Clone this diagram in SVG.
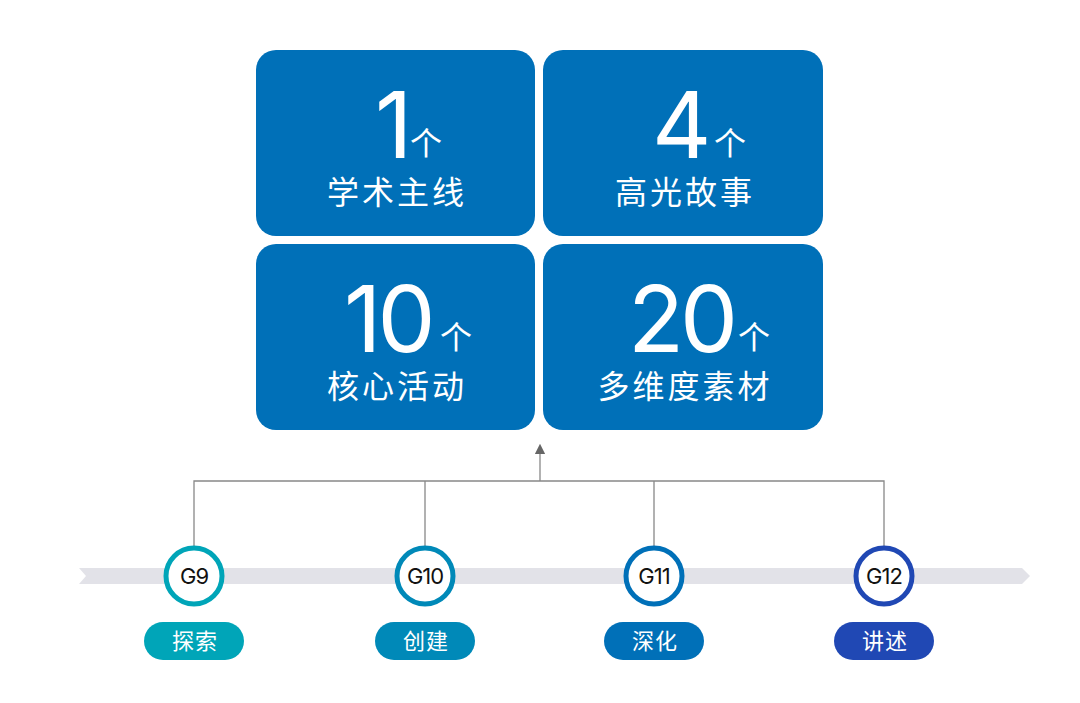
<svg xmlns="http://www.w3.org/2000/svg" width="1080" height="703" viewBox="0 0 1080 703">
<style>
.box{fill:#0070B8}
.num{font-family:Inter,"Liberation Sans",sans-serif;font-size:92px;fill:#fff;letter-spacing:-4px}
.ge{font-family:"Noto Sans CJK SC",sans-serif;font-size:32px;fill:#fff}
.lab{font-family:"Noto Sans CJK SC",sans-serif;font-size:32px;fill:#fff;text-anchor:middle;letter-spacing:3px}
.g{font-family:Inter,"Liberation Sans",sans-serif;font-size:22px;fill:#111;text-anchor:middle;letter-spacing:-1px}
.pt{font-family:"Noto Sans CJK SC",sans-serif;font-size:22px;fill:#fff;text-anchor:middle;letter-spacing:1px}
.ln{stroke:#888;stroke-width:1.3;fill:none}
</style>
<defs><marker id="ah" markerWidth="8" markerHeight="8" refX="4" refY="4" orient="auto"><path d="M0,0 L8,4 L0,8 z" fill="#666"/></marker></defs>
<rect width="1080" height="703" fill="#fff"/>
<g id="box1"><rect class="box" x="256" y="50" width="279" height="186" rx="20"/><text class="num" x="375" y="158">1</text><text class="ge" x="410" y="155">个</text><text class="lab" x="397" y="204">学术主线</text></g>
<g id="box2"><rect class="box" x="543" y="50" width="280" height="186" rx="20"/><text class="num" x="652" y="158">4</text><text class="ge" x="714" y="155">个</text><text class="lab" x="685" y="204">高光故事</text></g>
<g id="box3"><rect class="box" x="256" y="244" width="279" height="186" rx="20"/><text class="num" x="344" y="352">10</text><text class="ge" x="440" y="349">个</text><text class="lab" x="397" y="398">核心活动</text></g>
<g id="box4"><rect class="box" x="543" y="244" width="280" height="186" rx="20"/><text class="num" x="628" y="352">20</text><text class="ge" x="738" y="349">个</text><text class="lab" x="685" y="398">多维度素材</text></g>
<path d="M79,568 L1022,568 L1030,576 L1022,584 L79,584 L86,576 z" fill="#E2E2E8"/>
<g id="connectors">
<path class="ln" d="M194,547 V481 H884 V547 M425,481 V547 M654,481 V547"/>
<path class="ln" d="M540,481 V449" marker-end="url(#ah)"/>
</g>
<g id="g9"><circle cx="194" cy="576" r="28" fill="#fff" stroke="#00A5B8" stroke-width="5"/><text class="g" x="194" y="584">G9</text><rect x="144" y="622" width="100" height="38" rx="19" fill="#00A5B8"/><text class="pt" x="195" y="649">探索</text></g>
<g id="g10"><circle cx="425" cy="576" r="28" fill="#fff" stroke="#0089B8" stroke-width="5"/><text class="g" x="425" y="584">G10</text><rect x="375" y="622" width="100" height="38" rx="19" fill="#0089B8"/><text class="pt" x="426" y="649">创建</text></g>
<g id="g11"><circle cx="654" cy="576" r="28" fill="#fff" stroke="#0070B8" stroke-width="5"/><text class="g" x="654" y="584">G11</text><rect x="604" y="622" width="100" height="38" rx="19" fill="#0070B8"/><text class="pt" x="655" y="649">深化</text></g>
<g id="g12"><circle cx="884" cy="576" r="28" fill="#fff" stroke="#2048B4" stroke-width="5"/><text class="g" x="884" y="584">G12</text><rect x="834" y="622" width="100" height="38" rx="19" fill="#2048B4"/><text class="pt" x="885" y="649">讲述</text></g>
</svg>
